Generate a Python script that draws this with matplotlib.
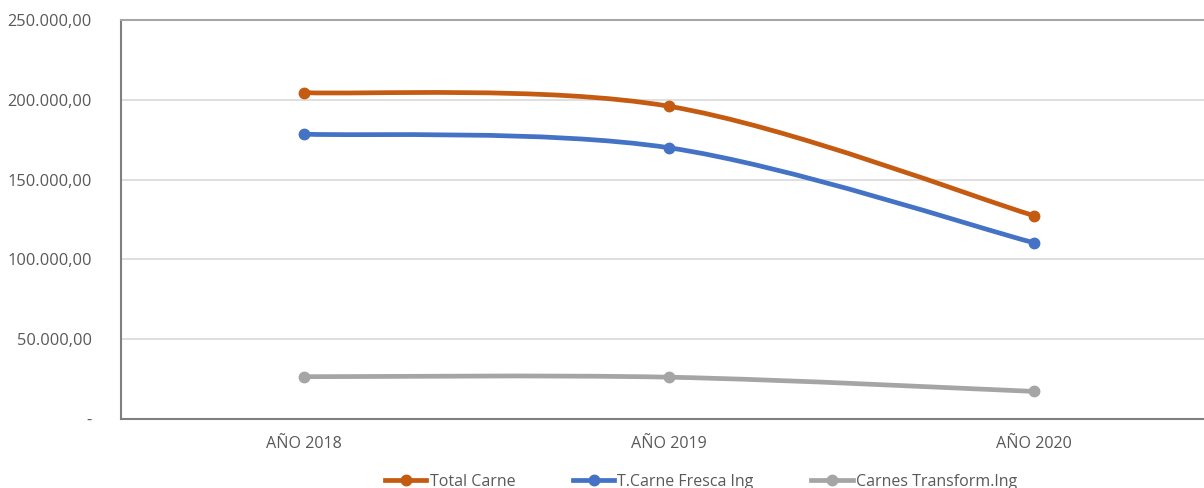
import numpy as np
import matplotlib.pyplot as plt
from matplotlib.path import Path
from matplotlib.patches import PathPatch
from matplotlib.lines import Line2D
from matplotlib.ticker import FuncFormatter

### data
years = ["AÑO 2018", "AÑO 2019", "AÑO 2020"]
total_carne = [204500, 196000, 127500]
carne_fresca = [178500, 170000, 110500]
carnes_transform = [26500, 26200, 17300]

series_names = ["Total Carne", "T.Carne Fresca Ing", "Carnes Transform.Ing"]
colors = ["#C55A11", "#4472C4", "#A5A5A5"]

plt.rcParams['font.family'] = ['Open Sans', 'DejaVu Sans']


def smooth_path(xs, ys, tension=1/6):
    # catmull-rom style bezier like excel's smoothed line
    xs = np.asarray(xs, float)
    ys = np.asarray(ys, float)
    n = len(xs)
    verts = [(xs[0], ys[0])]
    codes = [Path.MOVETO]
    for i in range(n - 1):
        p0 = (xs[max(i - 1, 0)], ys[max(i - 1, 0)])
        p1 = (xs[i], ys[i])
        p2 = (xs[i + 1], ys[i + 1])
        p3 = (xs[min(i + 2, n - 1)], ys[min(i + 2, n - 1)])
        c1 = (p1[0] + (p2[0] - p0[0]) * tension, p1[1] + (p2[1] - p0[1]) * tension)
        c2 = (p2[0] - (p3[0] - p1[0]) * tension, p2[1] - (p3[1] - p1[1]) * tension)
        verts += [c1, c2, p2]
        codes += [Path.CURVE4] * 3
    return Path(verts, codes)


fig = plt.figure(figsize=(12.04, 4.88), dpi=100)
# plot area runs past the right edge, as in the cropped original
ax = fig.add_axes([121 / 1204, 1 - 419 / 488, 1095 / 1204, 399 / 488])

x = np.arange(len(years))
for vals, name, c in zip([total_carne, carne_fresca, carnes_transform], series_names, colors):
    ax.add_patch(PathPatch(smooth_path(x, vals), fill=False, edgecolor=c, lw=3.4,
                           capstyle='round', zorder=3))
    ax.plot(x, vals, 'o', color=c, ms=7.5, zorder=4)

ax.set_xlim(-0.5, 2.5)
ax.set_ylim(0, 250000)
ax.set_yticks(np.arange(0, 250001, 50000))


def fmt(v, pos):
    if v == 0:
        return "-"
    return f"{v:,.2f}".replace(",", "X").replace(".", ",").replace("X", ".")


ax.yaxis.set_major_formatter(FuncFormatter(fmt))
ax.set_xticks(x)
ax.set_xticklabels(years)
ax.tick_params(axis='y', length=0, labelsize=11.8, colors='#595959', pad=21)
ax.tick_params(axis='x', length=0, labelsize=11.6, colors='#595959', pad=12)
ax.grid(axis='y', color='#D9D9D9', lw=1.2)
ax.set_axisbelow(True)
for s in ['left', 'bottom', 'top']:
    ax.spines[s].set_color('#7F7F7F')
    ax.spines[s].set_linewidth(1.5)
ax.spines['top'].set_color('#A6A6A6')
ax.spines['right'].set_visible(False)

handles = [Line2D([], [], color=c, lw=3.4, marker='o', ms=7.5) for c in colors]
fig.legend(handles, series_names, loc='center', bbox_to_anchor=(701 / 1204, 1 - 482 / 488),
           ncol=3, frameon=False, fontsize=11.5, labelcolor='#595959',
           handlelength=2.6, handletextpad=0.2, columnspacing=3.6)

fig.savefig("out.png", dpi=100)
